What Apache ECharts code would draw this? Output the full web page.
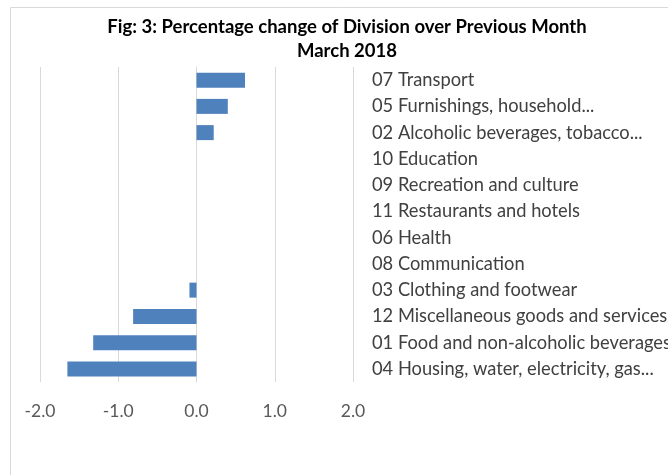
<!DOCTYPE html>
<html lang="en">
  <head>
    <meta charset="UTF-8" />
    <title>Percentage change of Division over Previous Month</title>
    <script src="https://cdn.jsdelivr.net/npm/echarts@6/dist/echarts.min.js"></script>
    <style>
      html, body { margin: 0; padding: 0; background: #fff; }
      #app { width: 668px; height: 475px; }
    </style>
  </head>
  <body>
    <div id="app"></div>
    <script>
      // categories listed top to bottom as in the figure
      const divisions = [
        "07 Transport",
        "05 Furnishings, household...",
        "02 Alcoholic beverages, tobacco...",
        "10 Education",
        "09 Recreation and culture",
        "11 Restaurants and hotels",
        "06 Health",
        "08 Communication",
        "03 Clothing and footwear",
        "12 Miscellaneous goods and services",
        "01 Food and non-alcoholic beverages",
        "04 Housing, water, electricity, gas..."
      ];
      const pctChange = [0.62, 0.40, 0.22, 0, 0, 0, 0, 0, -0.09, -0.81, -1.32, -1.65];
      const titleLines = ["Fig: 3: Percentage change of Division over Previous Month", "March 2018"];

      const font = "Lato, 'Open Sans', sans-serif";
      const chart = echarts.init(document.getElementById("app"));

      chart.setOption({
        animation: false,
        textStyle: { fontFamily: font },
        title: {
          text: titleLines.join("\n"),
          left: 342,
          top: 10,
          textAlign: "center",
          textStyle: { fontSize: 18.5, fontWeight: "bold", color: "#000", lineHeight: 24, fontFamily: font }
        },
        graphic: [
          {
            type: "rect",
            shape: { x: 10.5, y: 7.5, width: 700, height: 500 },
            style: { fill: "none", stroke: "#d9d9d9", lineWidth: 1 },
            silent: true
          }
        ],
        grid: { left: 40, right: 315, top: 67, bottom: 93, containLabel: false, outerBoundsMode: "none" },
        xAxis: {
          type: "value",
          min: -2,
          max: 2,
          interval: 1,
          axisLine: { show: false },
          axisTick: { show: false },
          splitLine: { lineStyle: { color: "#d9d9d9", width: 1 } },
          axisLabel: {
            margin: 20,
            fontSize: 17.5,
            color: "#595959",
            formatter: v => v.toFixed(1)
          }
        },
        yAxis: {
          type: "category",
          data: divisions,
          inverse: true,
          position: "right",
          axisLine: { show: true, lineStyle: { color: "#d9d9d9" } },
          axisTick: { show: false },
          axisLabel: { margin: 19, fontSize: 18.3, color: "#404040", align: "left" }
        },
        series: [
          {
            type: "bar",
            data: pctChange,
            barWidth: 15,
            itemStyle: { color: "#4f81bd" }
          }
        ]
      });
    </script>
  </body>
</html>
